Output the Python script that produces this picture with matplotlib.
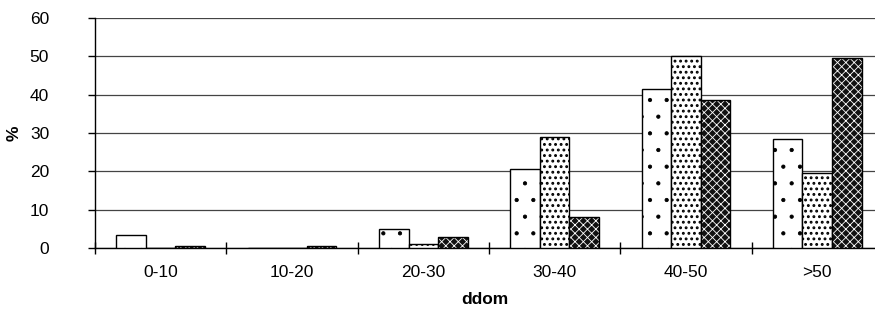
import matplotlib
matplotlib.use("Agg")
import matplotlib.pyplot as plt
import numpy as np

categories = ["0-10", "10-20", "20-30", "30-40", "40-50", ">50"]
series_a = [3.5, 0.0, 5.0, 20.5, 41.5, 28.5]
series_b = [0.0, 0.0, 1.0, 29.0, 50.0, 19.5]
series_c = [0.5, 0.5, 3.0, 8.0, 38.5, 49.5]
yticks = [0, 10, 20, 30, 40, 50, 60]

plt.rcParams['font.family'] = ['Liberation Sans', 'DejaVu Sans']
plt.rcParams['hatch.linewidth'] = 0.5

fig = plt.figure(figsize=(8.75, 3.16), dpi=100)
ax = fig.add_axes([95/875, 68/316, (875-95)/875, (248-18)/316])

x = np.arange(len(categories))
w = 0.225

def set_hlw(bars, lw):
    for p in bars:
        try:
            p.set_hatch_linewidth(lw)
        except AttributeError:
            pass

ba = ax.bar(x - w, series_a, w, facecolor='white', edgecolor='black', hatch='.', linewidth=1.0, zorder=3)
set_hlw(ba, 0.6)
bb = ax.bar(x, series_b, w, facecolor='white', edgecolor='black', hatch='...', linewidth=1.0, zorder=3)
set_hlw(bb, 1.3)
bc = ax.bar(x + w, series_c, w, facecolor='#111111', edgecolor='white', hatch='xxxx', linewidth=0, zorder=3)
set_hlw(bc, 0.6)
ax.bar(x + w, series_c, w, fill=False, edgecolor='black', linewidth=1.0, zorder=4)

ax.set_xlim(-0.5, 5.44)
ax.set_ylim(0, 60)
ax.set_yticks(yticks)
ax.set_xticks(x)
ax.set_xticklabels(categories, fontsize=12.5)
ax.set_xticks(np.arange(0, 6) - 0.5, minor=True)
ax.tick_params(axis='x', which='major', length=0, pad=12)
ax.tick_params(axis='x', which='minor', length=8, direction='inout', width=1)
ax.tick_params(axis='y', length=5, direction='out', width=1, labelsize=12.5, pad=28)

ax.grid(axis='y', color='#444444', linewidth=0.9, zorder=0)
ax.spines['top'].set_visible(False)
ax.spines['right'].set_visible(False)
ax.spines['left'].set_linewidth(1.0)
ax.spines['bottom'].set_linewidth(1.0)

ax.set_xlabel('ddom', fontsize=12.5, fontweight='bold', labelpad=9)
ax.set_ylabel('%', fontsize=12.5, fontweight='bold', labelpad=6)

fig.savefig('out.png', dpi=100)
